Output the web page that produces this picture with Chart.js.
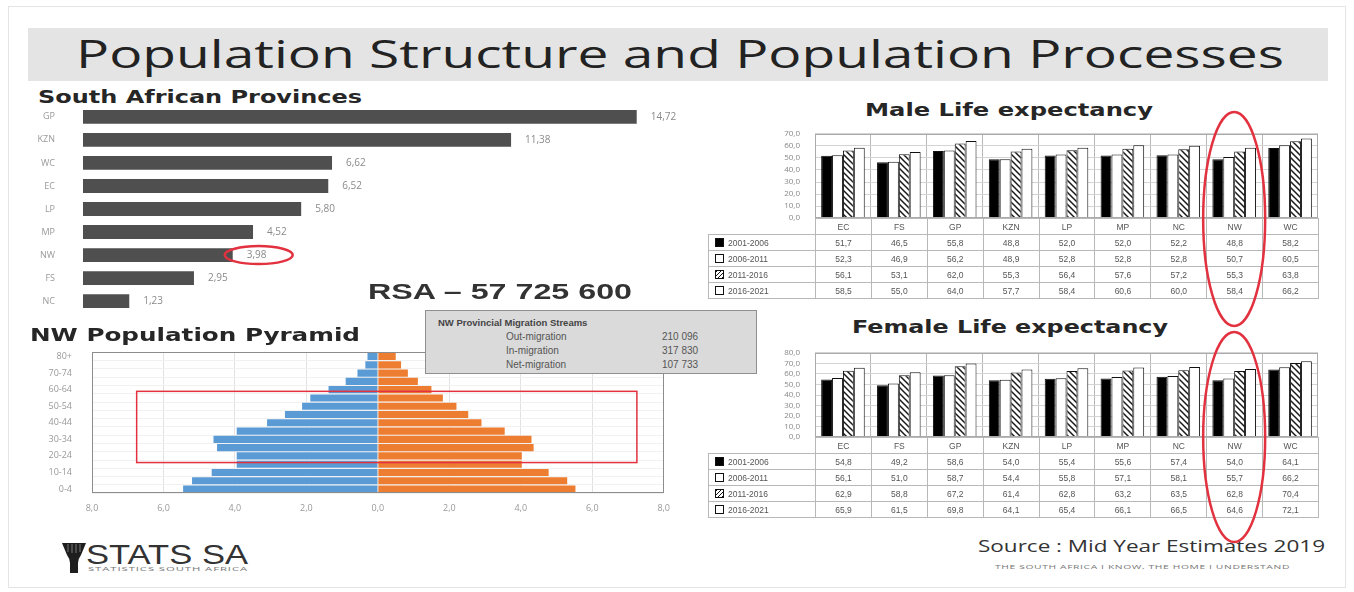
<!DOCTYPE html>
<html>
<head>
<meta charset="utf-8">
<title>Population Structure and Population Processes</title>
<script src="https://cdn.jsdelivr.net/npm/chart.js@4/dist/chart.umd.min.js"></script>
<style>
    body { margin: 0; background: #fff; }
    #page { position: relative; width: 1354px; height: 592px; overflow: hidden; background: #fff; font-family: "Open Sans", sans-serif; }
    #frame { position: absolute; left: 8px; top: 6px; width: 1336px; height: 580px; border: 1px solid #e4e4e4; }
    .abs { position: absolute; }
    .txt { position: absolute; white-space: nowrap; line-height: 1; transform-origin: left top; }
    .head { font-family: "DejaVu Sans", sans-serif; font-weight: bold; color: #262626; }
    #titleBand { position: absolute; left: 28px; top: 28px; width: 1300px; height: 53px; background: #e4e4e4; }
    #mainTitle { font-size: 38px; color: #222; }
    #rsa { font-family: "Liberation Sans", Arial, sans-serif; font-weight: bold; font-size: 22px; color: #333; }
    #migBox { position: absolute; left: 425px; top: 310px; width: 330px; height: 62px; background: #dadada; border: 1px solid #8f8f8f; z-index: 5; font-family: "Liberation Sans", sans-serif; color: #555; }
    #migBox .t { position: absolute; left: 12px; top: 6px; font-size: 9.5px; font-weight: bold; color: #444; white-space: nowrap; }
    #migBox .l { position: absolute; left: 80px; font-size: 10px; white-space: nowrap; }
    #migBox .v { position: absolute; left: 236px; font-size: 10px; white-space: nowrap; }
    table.le { position: absolute; border-collapse: collapse; table-layout: fixed; font: 8.5px "Liberation Sans", sans-serif; color: #555; }
    table.le td { border: 1px solid #b8b8b8; text-align: center; padding: 0; height: 15px; white-space: nowrap; overflow: hidden; }
    table.le td.blank { border: none; }
    table.le td.lg { text-align: left; padding-left: 6px; }
    .sw { display: inline-block; width: 7px; height: 7px; border: 1px solid #111; margin-right: 4px; vertical-align: -1px; background: #fff; }
    .sw0 { background: #000; }
    .sw2 { background: repeating-linear-gradient(-45deg, #111 0 1px, #fff 1px 3px); }
    #source { font-size: 16px; color: #333; }
    #tagline { font-size: 5px; color: #777; letter-spacing: 0.3px; }
    #stats { font-family: "Liberation Sans Narrow", "Liberation Sans", sans-serif; font-size: 27px; color: #333; }
    #statsSub { font-size: 5px; color: #777; letter-spacing: 0.4px; }
    #marks { position: absolute; left: 0; top: 0; z-index: 10; pointer-events: none; }
</style>
</head>
<body>
<div id="page">
    <div id="frame"></div>
    <div id="titleBand"></div>
    <div class="txt" id="mainTitle" style="left:76px; top:34px;">Population Structure and Population Processes</div>

    <div class="txt head" id="provHead" style="left:38px; top:88px; font-size:18px;">South African Provinces</div>
    <canvas id="provChart" class="abs" width="700" height="258" style="left:30px; top:80px;"></canvas>
    <div class="txt" id="rsa" style="left:368px; top:281px;">RSA – 57 725 600</div>

    <div class="txt head" id="pyrHead" style="left:30px; top:326px; font-size:18px;">NW Population Pyramid</div>
    <canvas id="pyrChart" class="abs" width="660" height="197" style="left:20px; top:327px;"></canvas>
    <div id="migBox"></div>

    <div class="txt head" id="maleHead" style="left:865px; top:102px; font-size:17px;">Male Life expectancy</div>
    <canvas id="maleChart" class="abs" width="563" height="124" style="left:755px; top:114px;"></canvas>
    <table class="le" id="maleTable" style="left:708px; top:218px;"></table>

    <div class="txt head" id="femaleHead" style="left:852px; top:319px; font-size:17px;">Female Life expectancy</div>
    <canvas id="femaleChart" class="abs" width="563" height="124" style="left:755px; top:333px;"></canvas>
    <table class="le" id="femaleTable" style="left:708px; top:437px;"></table>

    <svg class="abs" style="left:62px; top:543px;" width="24" height="30" viewBox="0 0 24 30">
        <path d="M0 0 H24 L19 12 Q16 16 16 20 V30 H8 V20 Q8 16 5 12 Z" fill="#1e1e1e"/>
        <path d="M6 1 V9 M10 1 V10 M14 1 V10 M18 1 V9" stroke="#777" stroke-width="1"/>
    </svg>
    <div class="txt" id="stats" style="left:86px; top:542px;">STATS SA</div>
    <div class="txt" id="statsSub" style="left:88px; top:567px;">STATISTICS SOUTH AFRICA</div>
    <div class="txt" id="source" style="left:978px; top:538px;">Source : Mid Year Estimates 2019</div>
    <div class="txt" id="tagline" style="left:995px; top:565px;">THE SOUTH AFRICA I KNOW, THE HOME I UNDERSTAND</div>

    <canvas id="marks" width="1354" height="592"></canvas>
</div>

<script>
// population by province, millions
const provinces = ['GP', 'KZN', 'WC', 'EC', 'LP', 'MP', 'NW', 'FS', 'NC'];
const provincePop = [14.72, 11.38, 6.62, 6.52, 5.80, 4.52, 3.98, 2.95, 1.23];

// NW age structure, % of population (oldest group first)
const ageGroups = ['80+', '75-79', '70-74', '65-69', '60-64', '55-59', '50-54', '45-49', '40-44',
    '35-39', '30-34', '25-29', '20-24', '15-19', '10-14', '5-9', '0-4'];
const malePct = [0.29, 0.35, 0.57, 0.9, 1.38, 1.89, 2.12, 2.6, 3.1, 3.95, 4.6, 4.5, 3.95, 3.95, 4.65, 5.2, 5.45];
const femalePct = [0.5, 0.65, 0.84, 1.12, 1.5, 1.82, 2.2, 2.53, 2.9, 3.55, 4.3, 4.36, 4.03, 4.03, 4.78, 5.3, 5.53];

const migrationLabels = ['Out-migration', 'In-migration', 'Net-migration'];
const migrationValues = ['210 096', '317 830', '107 733'];

// life expectancy at birth by province and period
const leProvinces = ['EC', 'FS', 'GP', 'KZN', 'LP', 'MP', 'NC', 'NW', 'WC'];
const periods = ['2001-2006', '2006-2011', '2011-2016', '2016-2021'];
const male2001 = [51.7, 46.5, 55.8, 48.8, 52.0, 52.0, 52.2, 48.8, 58.2];
const male2006 = [52.3, 46.9, 56.2, 48.9, 52.8, 52.8, 52.8, 50.7, 60.5];
const male2011 = [56.1, 53.1, 62.0, 55.3, 56.4, 57.6, 57.2, 55.3, 63.8];
const male2016 = [58.5, 55.0, 64.0, 57.7, 58.4, 60.6, 60.0, 58.4, 66.2];
const female2001 = [54.8, 49.2, 58.6, 54.0, 55.4, 55.6, 57.4, 54.0, 64.1];
const female2006 = [56.1, 51.0, 58.7, 54.4, 55.8, 57.1, 58.1, 55.7, 66.2];
const female2011 = [62.9, 58.8, 67.2, 61.4, 62.8, 63.2, 63.5, 62.8, 70.4];
const female2016 = [65.9, 61.5, 69.8, 64.1, 65.4, 66.1, 66.5, 64.6, 72.1];

const HIGHLIGHT = '#e2313f';
const fmt1 = v => v.toFixed(1).replace('.', ',');

Chart.defaults.font.family = '"Open Sans", sans-serif';
Chart.defaults.animation = false;
Chart.defaults.responsive = false;
Chart.defaults.plugins.legend.display = false;
Chart.defaults.plugins.tooltip.enabled = false;

// squeeze text horizontally to a given width
function fitWidth(id, w) {
    const el = document.getElementById(id);
    const r = el.getBoundingClientRect().width;
    el.style.transform = `scaleX(${w / r})`;
}

// border round the plot area
const plotFrame = {
    id: 'plotFrame',
    afterDraw(chart, args, opts) {
        const a = chart.chartArea, ctx = chart.ctx;
        ctx.save();
        ctx.strokeStyle = opts.color || '#999';
        ctx.lineWidth = 1;
        ctx.strokeRect(Math.round(a.left) + 0.5, Math.round(a.top) + 0.5, Math.round(a.width) - 1, Math.round(a.height) - 1);
        ctx.restore();
    }
};

// values at the end of the province bars, NW circled
const provinceLabels = {
    id: 'provinceLabels',
    afterDatasetsDraw(chart) {
        const ctx = chart.ctx, meta = chart.getDatasetMeta(0);
        ctx.save();
        ctx.font = '10px "Open Sans"';
        ctx.fillStyle = '#8a8a8a';
        ctx.textBaseline = 'middle';
        meta.data.forEach((bar, i) => {
            ctx.fillText(provincePop[i].toFixed(2).replace('.', ','), bar.x + 14, bar.y);
        });
        const nw = meta.data[provinces.indexOf('NW')];
        ctx.strokeStyle = HIGHLIGHT;
        ctx.lineWidth = 2.5;
        ctx.beginPath();
        ctx.ellipse(nw.x + 26, nw.y, 34, 9, 0, 0, Math.PI * 2);
        ctx.stroke();
        ctx.restore();
    }
};

// red box over the working-age groups
const workingAgeBox = {
    id: 'workingAgeBox',
    afterDatasetsDraw(chart) {
        const x = chart.scales.x, y = chart.scales.y, ctx = chart.ctx;
        const row = y.getPixelForValue(1) - y.getPixelForValue(0);
        const top = y.getPixelForValue(ageGroups.indexOf('60-64')) + row * 0.2;
        const bottom = y.getPixelForValue(ageGroups.indexOf('15-19')) - row * 0.2;
        const left = x.getPixelForValue(-6.75), right = x.getPixelForValue(7.25);
        ctx.save();
        ctx.strokeStyle = HIGHLIGHT;
        ctx.lineWidth = 1.5;
        ctx.strokeRect(left, top, right - left, bottom - top);
        ctx.restore();
    }
};

new Chart(document.getElementById('provChart'), {
    type: 'bar',
    data: {
        labels: provinces,
        datasets: [{ data: provincePop, backgroundColor: '#4f4f4f', barPercentage: 0.6, categoryPercentage: 1 }]
    },
    options: {
        indexAxis: 'y',
        scales: {
            x: { display: false, min: 0, max: 17.2 },
            y: {
                grid: { display: false }, border: { display: false },
                ticks: { color: '#9a9a9a', font: { size: 9 }, padding: 20 },
                afterFit: s => { s.width = 53; }
            }
        }
    },
    plugins: [provinceLabels]
});

new Chart(document.getElementById('pyrChart'), {
    type: 'bar',
    data: {
        labels: ageGroups,
        datasets: [
            { label: 'Male', data: malePct.map(v => -v), backgroundColor: '#5b9bd5' },
            { label: 'Female', data: femalePct, backgroundColor: '#ed7d31' }
        ]
    },
    options: {
        indexAxis: 'y',
        datasets: { bar: { barPercentage: 1, categoryPercentage: 0.86 } },
        scales: {
            x: {
                stacked: true, min: -8, max: 8,
                ticks: { stepSize: 2, callback: v => fmt1(Math.abs(v)), color: '#999', font: { size: 9 }, padding: 10 },
                grid: { color: '#e2e2e2', drawTicks: false }, border: { display: false }
            },
            y: {
                stacked: true,
                grid: { color: '#f1f1f1', drawTicks: false }, border: { display: false },
                ticks: { autoSkip: false, callback: (v, i) => (i % 2 ? '' : ageGroups[i]), color: '#999', font: { size: 9 }, padding: 20 },
                afterFit: s => { s.width = 72; }
            }
        },
        plugins: { plotFrame: { color: '#8c8c8c' } }
    },
    plugins: [plotFrame, workingAgeBox]
});

// diagonal hatch for the 2011-2016 bars
function hatchPattern() {
    const c = document.createElement('canvas');
    c.width = 6; c.height = 6;
    const g = c.getContext('2d');
    g.fillStyle = '#fff';
    g.fillRect(0, 0, 6, 6);
    g.strokeStyle = '#1a1a1a';
    g.lineWidth = 1.5;
    g.beginPath();
    g.moveTo(0, 0); g.lineTo(6, 6);
    g.moveTo(-3, 3); g.lineTo(3, 9);
    g.moveTo(3, -3); g.lineTo(9, 3);
    g.stroke();
    return g.createPattern(c, 'repeat');
}
const periodFill = ['#000', '#fff', hatchPattern(), '#fff'];

function lifeChart(id, series, maxY) {
    return new Chart(document.getElementById(id), {
        type: 'bar',
        data: {
            labels: leProvinces,
            datasets: series.map((d, i) => ({ label: periods[i], data: d, backgroundColor: periodFill[i] }))
        },
        options: {
            datasets: { bar: { barPercentage: 1, categoryPercentage: 0.78, borderWidth: 1, borderColor: '#111' } },
            scales: {
                x: { ticks: { display: false }, grid: { color: '#b8b8b8', drawTicks: false, offset: true }, border: { display: false } },
                y: {
                    min: 0, max: maxY,
                    ticks: { stepSize: 10, autoSkip: false, callback: v => fmt1(v), color: '#888', font: { size: 8 }, padding: 15 },
                    grid: { color: '#d4d4d4', drawTicks: false }, border: { display: false },
                    afterFit: s => { s.width = 60; }
                }
            },
            plugins: { plotFrame: { color: '#aaa' } }
        },
        plugins: [plotFrame]
    });
}

function buildTable(id, series) {
    const t = document.getElementById(id);
    let html = '<colgroup><col style="width:107px">' + leProvinces.map(() => '<col style="width:55.9px">').join('') + '</colgroup>';
    html += '<tr><td class="blank"></td>' + leProvinces.map(p => `<td>${p}</td>`).join('') + '</tr>';
    series.forEach((row, i) => {
        html += `<tr><td class="lg"><span class="sw sw${i}"></span>${periods[i]}</td>` +
            row.map(v => `<td>${fmt1(v)}</td>`).join('') + '</tr>';
    });
    t.style.width = (107 + 55.9 * leProvinces.length) + 'px';
    t.innerHTML = html;
}

const maleSeries = [male2001, male2006, male2011, male2016];
const femaleSeries = [female2001, female2006, female2011, female2016];
const maleChart = lifeChart('maleChart', maleSeries, 70);
const femaleChart = lifeChart('femaleChart', femaleSeries, 80);
buildTable('maleTable', maleSeries);
buildTable('femaleTable', femaleSeries);

// migration streams box
const mig = document.getElementById('migBox');
mig.innerHTML = '<div class="t">NW Provincial Migration Streams</div>' +
    migrationLabels.map((l, i) =>
        `<div class="l" style="top:${20 + i * 14}px">${l}</div><div class="v" style="top:${20 + i * 14}px">${migrationValues[i]}</div>`
    ).join('');

// NW column rings across chart and table
function ringNW(chart, canvasLeft, top, bottom) {
    const ctx = document.getElementById('marks').getContext('2d');
    const cx = canvasLeft + chart.scales.x.getPixelForValue(leProvinces.indexOf('NW'));
    ctx.save();
    ctx.strokeStyle = HIGHLIGHT;
    ctx.lineWidth = 2.5;
    ctx.beginPath();
    ctx.ellipse(cx, (top + bottom) / 2, 31, (bottom - top) / 2, 0, 0, Math.PI * 2);
    ctx.stroke();
    ctx.restore();
}
ringNW(maleChart, 755, 112, 326);
ringNW(femaleChart, 755, 332, 542);

fitWidth('mainTitle', 1208);
fitWidth('provHead', 324);
fitWidth('pyrHead', 330);
fitWidth('maleHead', 288);
fitWidth('femaleHead', 316);
fitWidth('rsa', 264);
fitWidth('source', 347);
fitWidth('stats', 162);
fitWidth('tagline', 295);
fitWidth('statsSub', 160);
</script>
</body>
</html>
